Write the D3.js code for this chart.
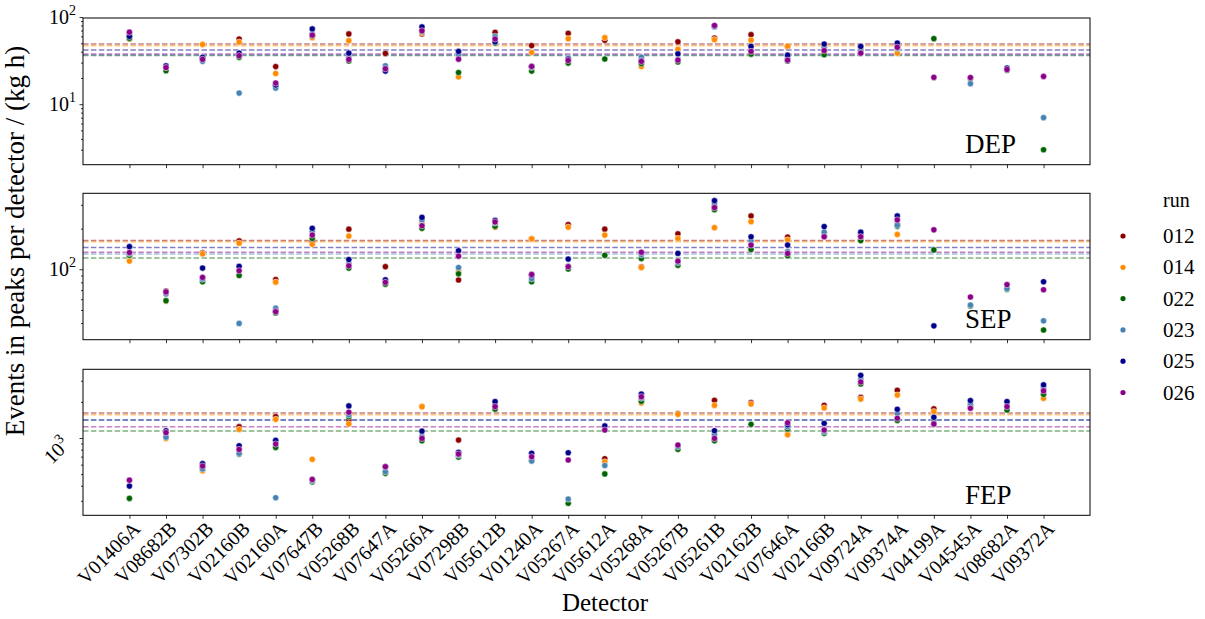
<!DOCTYPE html>
<html>
<head>
<meta charset="utf-8">
<script src="https://cdn.jsdelivr.net/npm/d3@7"></script>
<style>
  body { margin: 0; background: #fff; }
  text { font-family: "Liberation Serif", "DejaVu Serif", serif; fill: #000; }
</style>
</head>
<body>
<script>
// detectors on the x axis
var detectors = ["V01406A", "V08682B", "V07302B", "V02160B", "V02160A", "V07647B", "V05268B",
    "V07647A", "V05266A", "V07298B", "V05612B", "V01240A", "V05267A", "V05612A", "V05268A",
    "V05267B", "V05261B", "V02162B", "V07646A", "V02166B", "V09724A", "V09374A", "V04199A",
    "V04545A", "V08682A", "V09372A"];

// runs and their colours
var runs = ["012", "014", "022", "023", "025", "026"];
var runColors = ["#8b0000", "#ff8c00", "#006400", "#4682b4", "#00008b", "#8b008b"];

// DEP rates, one row per run (null = no point)
var depValues = [
    [56, 26, 33.5, 56, 27, 60, 64, 38.2, 64, 37, 66.7, 47, 65, 54, 30, 52, 57.4, 62.7, 45.5, 41, 45, 47, null, null, null, null],
    [56, 25.5, 48.5, 51.5, 22.5, 58, 53.5, 25.5, 66, 20.6, 51.5, 39.2, 56.4, 58, 27.1, 42.5, 55, 54.3, 46.5, 40, 43, 38.5, null, null, null, null],
    [57, 24.2, 33.5, 34.5, 16.2, 61, 31.3, 24.8, 68, 23.1, 50.2, 24, 29.6, 33, 29.2, 30.5, 78, 37.5, 31.3, 37, 39, 43.5, 56.5, 19.6, 24.5, 3.0],
    [62, 26.5, 31, 13.4, 15.3, 64, 34, 27.6, 72, 37, 60, 26.5, 34, null, 34.6, 32.5, 77, 42, 33.5, 45, 41, 44, null, 17.2, 25.5, 7.0],
    [60, 27.5, 34.5, 38.5, 16.6, 73, 38.5, 24, 77, 40.3, 52, 27, 33, null, 31.5, 37.8, 79, 46, 36.5, 49, 46, 50.2, null, null, 26, null],
    [67, 26.3, 32.7, 36, 17.5, 62, 32.6, 25.5, 69.5, 32.8, 56, 27.1, 31.8, null, 31, 32, 80, 40.3, 32, 41.2, 38.5, 45, 20.3, 20.2, 25, 20.8]
];

// SEP rates
var sepValues = [
    [128, 69, 132, 162, 84, 160, 198, 104.5, 215, 83.3, 215, 168, 214, 198, 104, 183, 290, 248, 173, 178, 180, 215, null, null, null, null],
    [115, 58, 130, 156, 80.3, 153, 176, 80, 220, 97.5, 205, 168, 205, 179, 103, 169, 203, 225, 165, 175, 165, 181, null, null, null, null],
    [127, 58.5, 80.8, 90, 47.5, 169, 102, 77.5, 201, 92.5, 208, 80.8, 100.5, 127, 120, 107, 276, 140, 126, 176, 163, 208, 139, 53.5, 71, 35.5],
    [131, 65.5, 84.5, 39.7, 51.5, 190, 110, 82, 232, 103, 220, 85, 105, null, 128, 112, 305, 162, 135, 188, 175, 212, null, 54.3, 72, 41.5],
    [147, 67, 102, 105, 49, 201, 118, 83.5, 242, 137, 230, 90, 119, null, 133, 131, 322, 174, 151, 207, 188, 248, 38.1, null, null, 80.8],
    [133, 68, 87, 97.5, 48.5, 179, 106, 80, 210, 125, 224, 91.5, 104.5, null, 133.5, 115, 286, 151, 131, 174, 174, 232, 196, 62.3, 77, 70.5]
];

// FEP rates
var fepValues = [
    [null, 1080, 570, 1242, 1506, null, 1413, null, 1830, 962, 1830, null, null, 672, 2100, 1600, 2060, 1970, 1150, 1870, 2180, 2500, 1750, null, null, null],
    [null, 990, 533, 1180, 1430, 664, 1310, null, 1825, null, 1760, null, null, 632, 1960, 1576, 1870, 1920, 1066, 1780, 2110, 2280, 1660, 1850, null, 2140],
    [314, 1030, 555, 735, 835, 430, 1506, 508, 950, 694, 1740, 650, 286, 502, 2020, 805, 950, 1300, 1190, 1094, 2820, 1400, 1300, 1850, 1711, 2310],
    [null, 1015, 552, 746, 318, 440, 1560, 525, 1026, 720, 1930, 643, 310, 590, 2150, 846, 1070, null, 1240, 1130, 3100, 1600, 1413, 1930, 1960, 2600],
    [398, 1150, 611, 862, 956, null, 1850, 575, 1140, 760, 2010, 746, 754, 1260, 2323, null, 1150, null, 1290, 1326, 3330, 1735, 1490, 2050, 2010, 2770],
    [445, 1110, 584, 803, 891, 452, 1640, 577, 992, 735, 1825, 698, 656, 1166, 2208, 874, 992, null, 1340, 1166, 2930, 1460, 1310, 1770, 1825, 2470]
];

// per-run averages (dashed lines)
var depMeans = [49.0, 46.8, 36.2, 36.6, 41.8, 37.6];
var sepMeans = [163, 160, 121, 129.5, 145, 133.6];
var fepMeans = [1616, 1566, 1145, 1413, 1413, 1242];

// y ranges and labelled decades
var depRange = [2.02, 97.5], sepRange = [30.1, 365], fepRange = [227, 3737];
var depMajor = [10, 100], sepMajor = [100], fepMajor = [1000];

var width = 1205, height = 619;
var left = 83, right = 1090;

var svg = d3.select("body").append("svg")
    .attr("width", width)
    .attr("height", height);

var x = d3.scalePoint()
    .domain(detectors)
    .range([left, right])
    .padding(1.27);

var panels = [
    {name: "DEP", values: depValues, means: depMeans, range: depRange, major: depMajor, top: 18, bottom: 164.7},
    {name: "SEP", values: sepValues, means: sepMeans, range: sepRange, major: sepMajor, top: 193.3, bottom: 339.7},
    {name: "FEP", values: fepValues, means: fepMeans, range: fepRange, major: fepMajor, top: 369.3, bottom: 515.3}
];

panels.forEach(function(p, pi){
    var y = d3.scaleLog().domain(p.range).range([p.bottom, p.top]);
    var g = svg.append("g");

    //minor ticks
    var minor = [];
    for (var e = -1; e < 5; e++){
        for (var m = 2; m < 10; m++){
            var v = m * Math.pow(10, e);
            if (v > p.range[0] && v < p.range[1]) minor.push(v);
        }
    }
    g.append("g")
        .attr("transform", "translate(" + left + ",0)")
        .call(d3.axisLeft(y).tickValues(minor).tickSize(2).tickFormat(""))
        .call(function(a){ a.select(".domain").remove(); a.selectAll("line").attr("stroke-width", 0.8); });

    g.append("g")
        .attr("transform", "translate(" + left + ",0)")
        .call(d3.axisLeft(y).tickValues(p.major).tickSize(3.5).tickFormat(""))
        .call(function(a){ a.select(".domain").remove(); a.selectAll("line").attr("stroke-width", 0.8); });

    //major tick labels 10^n
    p.major.forEach(function(v){
        var t = g.append("text")
            .style("font-size", "20px");
        if (pi == 2){
            t.attr("text-anchor", "end")
                .attr("transform", "translate(" + (left - 12) + "," + (y(v) + 8) + ") rotate(-45)");
        } else {
            t.attr("text-anchor", "end")
                .attr("x", left - 7)
                .attr("y", y(v) + 7);
        }
        t.append("tspan").text("10");
        t.append("tspan").attr("dy", -9).style("font-size", "14px").text(String(Math.round(Math.log10(v))));
    });

    //x ticks
    g.append("g")
        .attr("transform", "translate(0," + p.bottom + ")")
        .call(d3.axisBottom(x).tickSize(3.5).tickFormat(""))
        .call(function(a){ a.select(".domain").remove(); a.selectAll("line").attr("stroke-width", 0.8); });

    //mean lines
    g.selectAll(".mean")
        .data(p.means)
        .enter()
        .append("line")
        .attr("x1", left)
        .attr("x2", right)
        .attr("y1", function(d){ return y(d); })
        .attr("y2", function(d){ return y(d); })
        .attr("stroke", function(d, i){ return runColors[i]; })
        .attr("stroke-width", 1.5)
        .attr("stroke-opacity", 0.5)
        .attr("stroke-dasharray", "5.5,2.4");

    //points, run by run
    p.values.forEach(function(row, ri){
        g.selectAll(".pt" + ri)
            .data(row.map(function(v, i){ return {v: v, d: detectors[i]}; }).filter(function(d){ return d.v != null; }))
            .enter()
            .append("circle")
            .attr("cx", function(d){ return x(d.d); })
            .attr("cy", function(d){ return y(d.v); })
            .attr("r", 3.1)
            .attr("fill", runColors[ri])
            .attr("stroke", "#fff")
            .attr("stroke-width", 0.5);
    });

    //frame
    g.append("rect")
        .attr("x", left)
        .attr("y", p.top)
        .attr("width", right - left)
        .attr("height", p.bottom - p.top)
        .attr("fill", "none")
        .attr("stroke", "#000")
        .attr("stroke-width", 1);

    //panel name
    g.append("text")
        .attr("x", 965)
        .attr("y", p.bottom - 11.5)
        .style("font-size", "27px")
        .text(p.name);
});

//detector labels under the last panel
svg.append("g")
    .selectAll("text")
    .data(detectors)
    .enter()
    .append("text")
    .attr("text-anchor", "end")
    .attr("transform", function(d){ return "translate(" + (x(d) + 12) + ",530) rotate(-45)"; })
    .style("font-size", "20px")
    .text(function(d){ return d; });

//axis titles
svg.append("text")
    .attr("text-anchor", "middle")
    .attr("x", 605)
    .attr("y", 611)
    .style("font-size", "25px")
    .text("Detector");

svg.append("text")
    .attr("text-anchor", "middle")
    .attr("transform", "translate(24,241) rotate(-90)")
    .style("font-size", "27px")
    .text("Events in peaks per detector / (kg h)");

//legend
var legend = svg.append("g");
legend.append("text")
    .attr("x", 1163)
    .attr("y", 207)
    .style("font-size", "20px")
    .text("run");
runs.forEach(function(r, i){
    var ly = 236 + i * 31.3;
    legend.append("circle")
        .attr("cx", 1123)
        .attr("cy", ly)
        .attr("r", 2.6)
        .attr("fill", runColors[i]);
    legend.append("text")
        .attr("x", 1163)
        .attr("y", ly + 7)
        .style("font-size", "21px")
        .text(r);
});
</script>
</body>
</html>
